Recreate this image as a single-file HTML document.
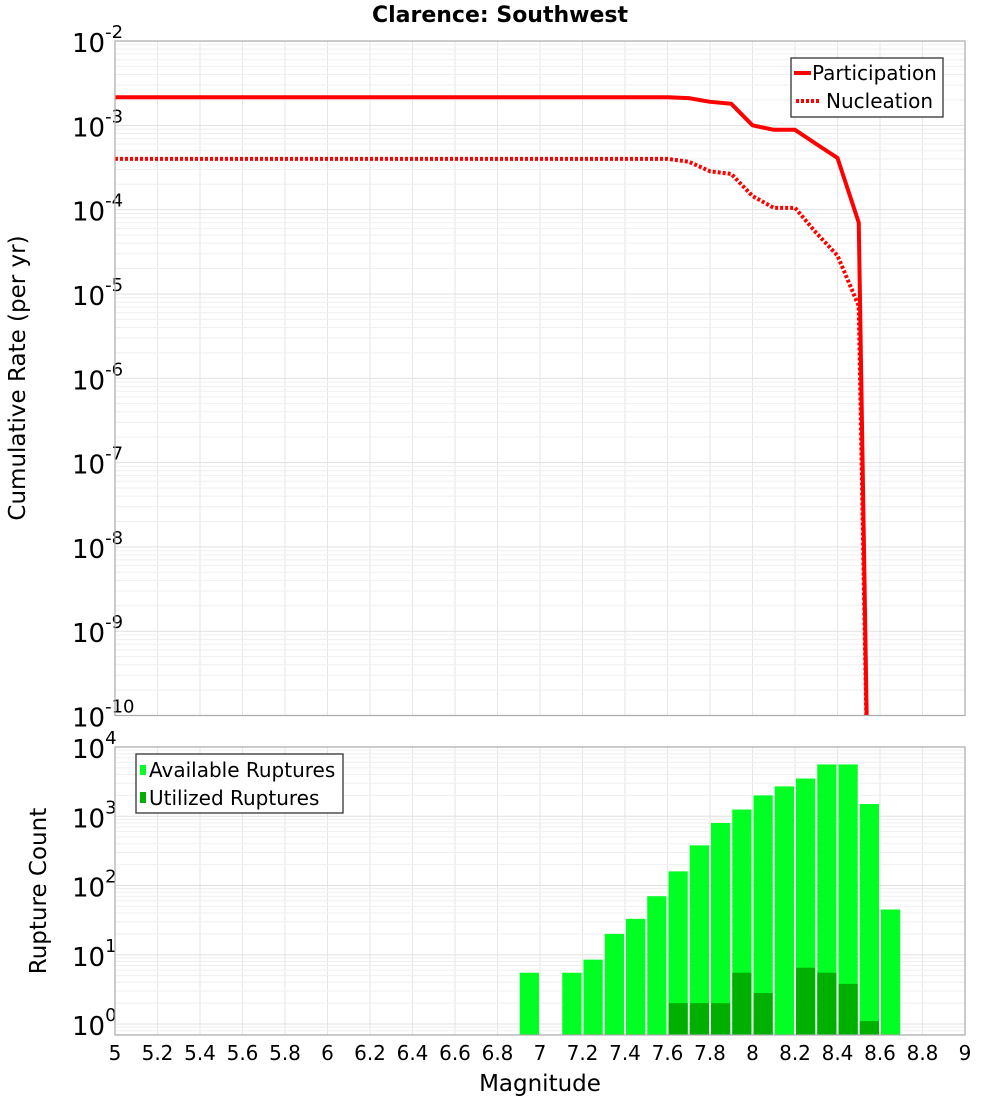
<!DOCTYPE html>
<html><head><meta charset="utf-8"><style>
body{margin:0;background:#fff;}
svg text{font-family:"DejaVu Sans","Liberation Sans",sans-serif;}
</style></head><body>
<svg id="chart" width="1000" height="1100" xmlns="http://www.w3.org/2000/svg">
<text x="500" y="22" text-anchor="middle" font-size="22" font-weight="bold">Clarence: Southwest</text>
<text transform="translate(25,378) rotate(-90)" text-anchor="middle" font-size="23">Cumulative Rate (per yr)</text>
<text transform="translate(46,891) rotate(-90)" text-anchor="middle" font-size="23">Rupture Count</text>
<text x="540" y="1091" text-anchor="middle" font-size="23">Magnitude</text>
<g id="grid"></g><g id="marks"></g><g id="axes"></g>
<g>
<rect x="791" y="58" width="152" height="59" fill="#fff" stroke="#333" stroke-width="1.3"/>
<line x1="794" y1="73" x2="811" y2="73" stroke="#f00" stroke-width="4"/>
<text x="812" y="80" font-size="20">Participation</text>
<line x1="796" y1="101" x2="820" y2="101" stroke="#f00" stroke-width="4" stroke-dasharray="3,2"/>
<text x="826" y="108" font-size="20">Nucleation</text>
</g>
<g>
<rect x="136" y="754" width="207" height="59" fill="#fff" stroke="#333" stroke-width="1.3"/>
<rect x="140" y="765" width="6" height="10" fill="#00ff22"/>
<text x="149" y="777" font-size="20">Available Ruptures</text>
<rect x="140" y="792" width="6" height="11" fill="#00b000"/>
<text x="149" y="805" font-size="20">Utilized Ruptures</text>
</g>
</svg>
<script>
const mags=[5,7.6,7.7,7.8,7.9,8.0,8.1,8.2,8.3,8.4,8.5,8.55];
const participation=[2.15e-3,2.15e-3,2.1e-3,1.9e-3,1.8e-3,1.0e-3,8.85e-4,8.85e-4,6.0e-4,4.1e-4,7e-5,1e-12];
const nucleation=[4.0e-4,4.0e-4,3.7e-4,2.85e-4,2.65e-4,1.45e-4,1.05e-4,1.05e-4,5.3e-5,2.85e-5,7.2e-6,1e-12];
const binMags=[6.9,7.1,7.2,7.3,7.4,7.5,7.6,7.7,7.8,7.9,8.0,8.1,8.2,8.3,8.4,8.5,8.6];
const available=[5.5,5.5,8.5,20,33,70,160,380,800,1250,2000,2700,3500,5600,5600,1500,45];
const utilBins=[7.6,7.7,7.8,7.9,8.0,8.2,8.3,8.4,8.5];
const utilized=[2,2,2,5.5,2.8,6.5,5.5,3.8,1.1];
const xTicks=["5","5.2","5.4","5.6","5.8","6","6.2","6.4","6.6","6.8","7","7.2","7.4","7.6","7.8","8","8.2","8.4","8.6","8.8","9"];
const topExp=[-2,-3,-4,-5,-6,-7,-8,-9,-10];
const botExp=[0,1,2,3,4];
const NS="http://www.w3.org/2000/svg";
const L=115,R=965,T1=41,B1=715.5,T2=747,B2=1035;
const x=m=>L+(m-5)*(R-L)/4;
const y1=v=>T1+(-2-Math.log10(v))*(B1-T1)/8;
const y2=v=>1024-Math.log10(v)*69.25;
function mk(tag,attrs,parent){const e=document.createElementNS(NS,tag);for(const k in attrs)e.setAttribute(k,attrs[k]);parent.appendChild(e);return e;}
const grid=document.getElementById('grid'),marks=document.getElementById('marks'),axes=document.getElementById('axes');
xTicks.forEach(t=>{const xx=x(+t);
 [[T1,B1],[T2,B2]].forEach(([a,b])=>{const l=mk('line',{x1:xx,x2:xx,y1:a,y2:b,stroke:'#e6e6e6'},grid);
 
 });
 const tx=mk('text',{x:xx,y:1060,'text-anchor':'middle','font-size':'20'},axes);tx.textContent=t;
 
 
});
for(let e=-10;e<-2;e++)for(let k=1;k<10;k++){const yy=y1(k*Math.pow(10,e));
 const l=mk('line',{x1:L,x2:R,y1:yy,y2:yy,stroke:k==1?'#e0e0e0':'#efefef'},grid);
 
 }
for(let e=-1;e<4;e++)for(let k=1;k<10;k++){const yy=y2(k*Math.pow(10,e));if(yy<T2||yy>B2)continue;
 const l=mk('line',{x1:L,x2:R,y1:yy,y2:yy,stroke:k==1?'#e0e0e0':'#efefef'},grid);
 
 }
function expLabel(yy,e,name){const t=mk('text',{x:72,y:yy+11,'font-size':'26'},axes);
 
 
 const a=mk('tspan',{},t);a.textContent='10';
 const b=mk('tspan',{dy:-14,'font-size':'18'},t);b.textContent=String(e);}
topExp.forEach(e=>expLabel(y1(Math.pow(10,e)),e,'top-y-tick-label'));
botExp.forEach(e=>expLabel(y2(Math.pow(10,e)),e,'bottom-y-tick-label'));
binMags.forEach((m,i)=>{const yy=y2(available[i]);const r=mk('rect',{x:x(m)+1,y:yy,width:x(m+0.1)-x(m)-2,height:B2-yy,fill:'#00ff22'},marks);
 
 });
utilBins.forEach((m,i)=>{const yy=y2(utilized[i]);const r=mk('rect',{x:x(m)+1,y:yy,width:x(m+0.1)-x(m)-2,height:B2-yy,fill:'#00b000'},marks);
 
 });
const cp=mk('clipPath',{id:'c1'},marks);
mk('rect',{x:L,y:T1,width:R-L,height:B1-T1},cp);
function line(vals,dash,name){const p=mk('polyline',{points:mags.map((m,i)=>x(m)+','+y1(vals[i])).join(' '),fill:'none',stroke:'#f00','stroke-width':4,'clip-path':'url(#c1)','stroke-linejoin':'round'},marks);
 if(dash)p.setAttribute('stroke-dasharray','3,2');
 
 }
line(participation,false,'participation-line');
line(nucleation,true,'nucleation-line');
[[T1,B1],[T2,B2]].forEach(([a,b])=>{const r=mk('rect',{x:L,y:a,width:R-L,height:b-a,fill:'none',stroke:'#aaa','stroke-width':1.2},axes);
 
 });
</script>
</body></html>
